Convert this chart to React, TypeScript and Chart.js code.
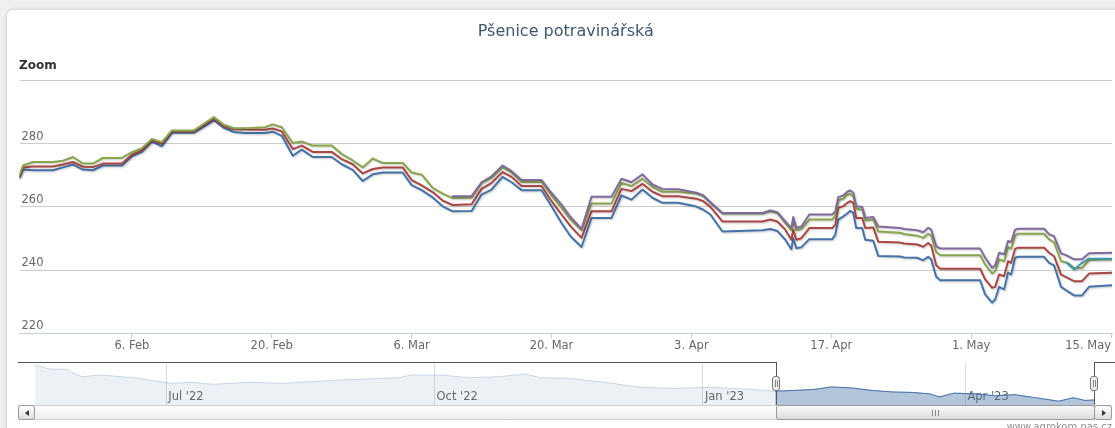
import React, { useEffect, useRef } from "react";
import { Chart, registerables } from "chart.js";

Chart.register(...registerables);

const FONT = "'DejaVu Sans', Verdana, sans-serif";
Chart.defaults.font.family = FONT;

const chartTitle = "Pšenice potravinářská";
const rangeLabel = "Zoom";
const creditText = "www.agrokom.nas.cz";

// x positions: days since 1 Jan 2023 (fractions = part of a day)
const days = [
  24.75, 25.1, 26.1, 28.1, 29.1, 30.1, 31.1, 32.1, 33.1, 35.0,
  36.0, 37.0, 38.0, 39.0, 40.0, 42.2, 43.2, 44.2, 45.2, 46.2,
  47.3, 49.3, 50.1, 51.0, 52.1, 53.0, 54.1, 56.0, 57.0, 58.1,
  59.1, 60.1, 61.1, 63.1, 64.0, 65.0, 66.1, 67.1, 68.1, 70.0,
  71.0, 72.0, 73.1, 74.0, 75.0, 77.0, 78.0, 79.0, 79.9, 81.0,
  82.0, 84.0, 85.0, 86.0, 87.1, 88.1, 89.1, 90.7, 92.5, 93.2,
  93.9, 95.1, 99.1, 99.9, 100.6, 101.4, 102.0, 102.2, 102.5, 103.0,
  103.8, 106.1, 106.4, 106.7, 107.2, 107.6, 107.9, 108.2, 108.5, 109.1,
  109.4, 110.2, 110.7, 112.9, 113.3, 114.6, 115.2, 115.7, 116.0, 116.5,
  116.9, 120.9, 121.4, 122.1, 122.4, 122.8, 123.3, 123.7, 124.0, 124.4,
  124.7, 127.3, 127.8, 128.3, 129.0, 129.6, 130.3, 131.1, 131.8, 134.1,
];

const blueSeries = [
  269.2, 271.8, 271.6, 271.6, 272.5, 273.4, 271.8, 271.6, 273.1, 273.1,
  276.0, 277.4, 280.7, 279.2, 283.5, 283.5, 285.4, 287.4, 285.0, 283.7,
  283.4, 283.4, 283.8, 282.5, 276.2, 278.1, 275.8, 275.8, 273.5, 271.7,
  268.2, 270.3, 270.9, 270.9, 266.9, 265.3, 263.0, 260.2, 258.6, 258.7,
  263.9, 265.5, 269.5, 267.8, 265.3, 265.3, 260.2, 254.9, 250.7, 247.3,
  256.5, 256.5, 263.6, 262.3, 265.5, 262.9, 261.3, 261.3, 260.1, 259.1,
  257.6, 252.2, 252.6, 253.0, 252.4, 249.6, 246.6, 250.1, 246.9, 247.2,
  249.8, 249.8, 251.2, 256.0, 257.0, 257.9, 258.8, 258.1, 253.3, 253.3,
  249.6, 249.3, 244.5, 244.3, 244.0, 243.9, 243.1, 244.2, 243.4, 237.9,
  236.8, 236.8, 232.3, 229.7, 230.7, 234.7, 233.9, 239.2, 238.6, 243.9,
  244.2, 244.2, 242.3, 241.5, 234.7, 233.4, 232.0, 232.0, 234.7, 235.2,
];

const redSeries = [
  269.7, 272.5, 272.8, 272.8, 273.4, 274.2, 272.7, 272.6, 273.7, 273.7,
  276.5, 277.9, 281.1, 280.0, 283.9, 283.9, 285.9, 287.9, 285.5, 284.6,
  284.5, 284.4, 284.8, 283.9, 278.3, 279.4, 277.4, 277.4, 275.1, 273.5,
  270.6, 272.0, 272.5, 272.5, 268.5, 266.8, 264.7, 262.0, 260.6, 260.8,
  265.7, 267.6, 271.0, 269.5, 266.6, 266.6, 261.8, 257.6, 253.9, 250.2,
  258.6, 258.6, 265.7, 265.0, 267.3, 264.8, 263.4, 263.4, 262.6, 261.8,
  260.0, 255.4, 255.4, 256.0, 255.4, 252.8, 249.6, 252.8, 249.6, 250.1,
  253.3, 253.3, 254.4, 259.7, 260.2, 261.3, 261.8, 261.3, 256.5, 256.5,
  253.3, 253.5, 249.0, 248.7, 248.4, 248.1, 247.4, 248.6, 247.8, 241.5,
  240.4, 240.4, 237.1, 234.4, 234.7, 238.6, 238.1, 242.8, 242.3, 246.7,
  247.1, 247.1, 245.5, 244.4, 238.6, 237.6, 236.5, 236.5, 238.9, 239.2,
];

const greenSeries = [
  270.2, 273.1, 274.2, 274.2, 274.6, 275.8, 273.7, 273.7, 275.5, 275.5,
  277.3, 278.6, 281.5, 280.5, 284.2, 284.2, 286.3, 288.4, 286.0, 284.9,
  284.9, 285.2, 286.1, 285.2, 280.2, 280.7, 279.4, 279.4, 276.7, 274.7,
  272.5, 275.3, 273.9, 273.9, 270.9, 270.2, 266.0, 264.2, 262.8, 262.9,
  267.6, 269.2, 272.6, 270.8, 267.9, 267.9, 263.6, 259.7, 256.0, 252.6,
  261.1, 261.1, 267.6, 266.6, 268.9, 266.3, 264.8, 264.8, 264.2, 263.4,
  261.3, 257.9, 257.9, 258.6, 258.1, 254.9, 252.6, 255.4, 252.6, 253.0,
  256.0, 256.0, 257.0, 262.1, 262.6, 263.9, 264.1, 263.4, 259.4, 259.1,
  255.7, 256.0, 252.2, 251.8, 251.4, 250.9, 250.2, 251.5, 250.9, 245.7,
  244.7, 244.7, 241.8, 238.9, 239.7, 243.4, 242.8, 247.3, 246.8, 250.9,
  251.5, 251.5, 249.7, 248.8, 242.8, 242.3, 240.7, 240.7, 243.2, 243.4,
];

const purpleSeries = [
  null, null, null, null, null, null, null, null, null, null,
  null, null, null, null, null, null, null, null, null, null,
  null, null, null, null, null, null, null, null, null, null,
  null, null, null, null, null, null, null, null, 263.4, 263.4,
  267.8, 269.7, 273.1, 271.3, 268.5, 268.5, 264.4, 260.7, 256.8, 253.0,
  263.2, 263.2, 268.9, 267.8, 270.3, 267.1, 265.7, 265.6, 264.5, 263.6,
  261.5, 258.1, 258.1, 258.9, 258.3, 255.4, 253.3, 256.8, 253.3, 253.8,
  257.6, 257.6, 258.6, 263.1, 263.6, 264.8, 265.2, 264.5, 260.2, 260.0,
  256.5, 256.8, 253.8, 253.3, 253.0, 252.6, 252.0, 253.4, 252.8, 247.6,
  246.8, 246.8, 243.9, 240.7, 241.5, 245.5, 245.0, 249.2, 248.9, 252.8,
  253.1, 253.1, 251.3, 250.7, 245.3, 244.6, 243.4, 243.4, 245.3, 245.5,
];

const tealSeries = [
  null, null, null, null, null, null, null, null, null, null,
  null, null, null, null, null, null, null, null, null, null,
  null, null, null, null, null, null, null, null, null, null,
  null, null, null, null, null, null, null, null, null, null,
  null, null, null, null, null, null, null, null, null, null,
  null, null, null, null, null, null, null, null, null, null,
  null, null, null, null, null, null, null, null, null, null,
  null, null, null, null, null, null, null, null, null, null,
  null, null, null, null, null, null, null, null, null, null,
  null, null, null, null, null, null, null, null, null, null,
  null, null, null, null, null, 242.3, 240.2, 242.3, 243.6, 243.6,
];

const viewStart = 24.75;
const viewEnd = 134.1;
// first entry is a blank tick at the axis start (keeps "6. Feb" centred, "15. May" right-aligned)
const xTickDays = [viewStart, 36, 50, 64, 78, 92, 106, 120, 134];
const xTickLabels = ["", "6. Feb", "20. Feb", "6. Mar", "20. Mar", "3. Apr", "17. Apr", "1. May", "15. May"];
const yTickValues = [220, 240, 260, 280, 300];

// navigator (whole year), days since 1 Jan 2023
const navDays = [
  -229, -224, -218, -216.7, -213, -206.7, -199.5, -194.7, -190, -182.4,
  -175.2, -168, -155.6, -143.6, -131.3, -118.9, -104.6, -99.8, -89.8, -80.2,
  -70.3, -60.7, -55.9, -46, -33.6, -21.5, -9.3, 2.7, 15.1, 24.75,
  31, 38, 44, 51, 58, 65, 72, 78, 81, 86,
  93, 100, 107, 114, 122, 127, 131, 134.1,
];
const navValues = [
  374.8, 358.8, 357.6, 348, 328, 334.8, 328, 324, 314.8, 301.6,
  305.6, 297.6, 305.6, 301.6, 310.8, 317.6, 324, 334.8, 334.8, 324,
  328, 338.8, 324, 321.6, 305.6, 285.6, 281.6, 285.6, 278.8, 270,
  273, 277, 287, 283, 273, 267, 265, 259, 247, 262,
  260, 252, 256, 244, 230, 244, 233, 235,
];
const navTickDays = [-184, -92, 0, 90];
const navTickLabels = ["Jul '22", "Oct '22", "Jan '23", "Apr '23"];
const navStart = -229;
const navEnd = 134.1;

const lineShadow = {
  id: "lineShadow",
  beforeDatasetDraw(chart: any) {
    const c = chart.ctx;
    c.save();
    c.shadowColor = "rgba(0,0,0,0.22)";
    c.shadowBlur = 2;
    c.shadowOffsetX = 1;
    c.shadowOffsetY = 1;
  },
  afterDatasetDraw(chart: any) {
    chart.ctx.restore();
  },
};

function series(label: string, values: (number | null)[], color: string) {
  return {
    label,
    data: days.map((d, i) => ({ x: d, y: values[i] })),
    borderColor: color,
    backgroundColor: color,
    borderWidth: 2,
    pointRadius: 0,
    fill: false,
    spanGaps: false,
    borderJoinStyle: "round",
    borderCapStyle: "round",
  };
}

export default function App() {
  const mainRef = useRef<HTMLCanvasElement>(null);
  const navRef = useRef<HTMLCanvasElement>(null);

  useEffect(() => {
    const main = new Chart(mainRef.current as HTMLCanvasElement, {
      type: "line",
      data: {
        datasets: [
          series("5", tealSeries, "#3D96AE"),
          series("4", purpleSeries, "#80699B"),
          series("3", greenSeries, "#89A54E"),
          series("2", redSeries, "#AA4643"),
          series("1", blueSeries, "#4572A7"),
        ] as any,
      },
      options: {
        responsive: false,
        animation: false,
        layout: { padding: { left: 19.5, right: 3, top: 0, bottom: 0 } },
        plugins: {
          legend: { display: false },
          tooltip: { enabled: false },
          title: {
            display: true,
            text: chartTitle,
            color: "#3E576F",
            font: { size: 16, weight: "normal", family: FONT },
            padding: { top: 22, bottom: 39.3 },
          },
        },
        scales: {
          x: {
            type: "linear",
            min: viewStart,
            max: viewEnd,
            afterBuildTicks: (axis: any) => {
              axis.ticks = xTickDays.map((v) => ({ value: v }));
            },
            afterFit: (s: any) => {
              s.height = 24.7;
              s.paddingLeft = 0;
              s.paddingRight = 0;
            },
            grid: {
              display: true,
              drawOnChartArea: false,
              drawTicks: true,
              tickLength: 5,
              color: (ctx: any) => (ctx.tick && ctx.tick.value === viewStart ? "rgba(0,0,0,0)" : "#C0D0E0"),
            },
            border: { display: true, color: "#C0D0E0", width: 1 },
            ticks: {
              autoSkip: false,
              maxRotation: 0,
              align: "inner",
              padding: 1,
              color: "#666666",
              font: { size: 11.5 },
              callback: (_v: any, i: number) => xTickLabels[i],
            },
          },
          y: {
            type: "linear",
            min: 220,
            max: 300,
            afterBuildTicks: (axis: any) => {
              axis.ticks = yTickValues.map((v) => ({ value: v }));
            },
            afterFit: (s: any) => {
              s.width = 0;
              s.paddingTop = 0;
              s.paddingBottom = 0;
            },
            grid: {
              drawTicks: false,
              color: (ctx: any) => (ctx.tick && ctx.tick.value === 220 ? "rgba(0,0,0,0)" : "#cccccc"),
            },
            border: { display: false },
            ticks: {
              mirror: true,
              padding: 2,
              labelOffset: -7,
              color: "#666666",
              font: { size: 11.5 },
              callback: (v: any) => (v === 300 ? "" : String(v)),
            },
          },
        },
      } as any,
      plugins: [lineShadow],
    });

    const navAll = navDays.map((d, i) => ({ x: d, y: navValues[i] }));
    const navSel = navDays.map((d, i) => ({ x: d, y: navValues[i] })).filter((p) => p.x >= viewStart);

    const nav = new Chart(navRef.current as HTMLCanvasElement, {
      type: "line",
      data: {
        datasets: [
          {
            data: navSel,
            borderColor: "#4572A7",
            borderWidth: 1,
            backgroundColor: "rgba(69,114,167,0.34)",
            fill: "start",
            pointRadius: 0,
          },
          {
            data: navAll,
            borderColor: "rgba(69,114,167,0.25)",
            borderWidth: 1,
            backgroundColor: "rgba(69,114,167,0.1)",
            fill: "start",
            pointRadius: 0,
          },
        ] as any,
      },
      options: {
        responsive: false,
        animation: false,
        layout: { padding: { left: 35, right: 21, top: 0, bottom: 0 } },
        plugins: { legend: { display: false }, tooltip: { enabled: false }, title: { display: false } },
        scales: {
          x: {
            type: "linear",
            min: navStart,
            max: navEnd,
            afterBuildTicks: (axis: any) => {
              axis.ticks = navTickDays.map((v) => ({ value: v }));
            },
            afterFit: (s: any) => {
              s.height = 0;
              s.paddingLeft = 0;
              s.paddingRight = 0;
            },
            grid: { color: "#dddddd", drawTicks: false },
            border: { display: false },
            ticks: {
              mirror: true,
              align: "start",
              padding: 1,
              labelOffset: 2,
              autoSkip: false,
              maxRotation: 0,
              color: "#666666",
              font: { size: 11.5 },
              callback: (_v: any, i: number) => navTickLabels[i],
            },
          },
          y: { display: false, min: 214.8, max: 386.8 },
        },
      } as any,
    });

    return () => {
      main.destroy();
      nav.destroy();
    };
  }, []);

  const btn: React.CSSProperties = {
    position: "absolute",
    top: 405,
    height: 15,
    boxSizing: "border-box",
    border: "1px solid #999",
    borderRadius: 3,
    background: "linear-gradient(#ffffff, #dddddd)",
  };
  const handle = (x: number): React.CSSProperties => ({
    position: "absolute",
    left: x - 4,
    top: 376,
    width: 8,
    height: 15,
    boxSizing: "border-box",
    border: "1px solid #777",
    borderRadius: 3,
    background: "#eeeeee",
  });
  const grip = (x: number, top: number, h: number): React.CSSProperties => ({
    position: "absolute",
    left: x,
    top,
    width: 1,
    height: h,
    background: "#888",
  });

  return (
    <div
      style={{
        position: "fixed",
        left: 0,
        top: 0,
        width: 1115,
        height: 428,
        overflow: "hidden",
        background: "#f0f0f0",
        fontFamily: FONT,
      }}
    >
      <div
        style={{
          position: "absolute",
          left: 7,
          top: 10,
          width: 1130,
          height: 440,
          background: "#ffffff",
          borderRadius: 6,
          boxShadow: "0 0 4px rgba(0,0,0,0.2)",
        }}
      />
      <canvas ref={mainRef} width={1115} height={358} style={{ position: "absolute", left: 0, top: 0, display: "block" }} />
      <div
        style={{
          position: "absolute",
          left: 19,
          top: 58,
          fontSize: 12,
          fontWeight: "bold",
          color: "#333",
          lineHeight: "14px",
        }}
      >
        {rangeLabel}
      </div>
      <canvas ref={navRef} width={1115} height={43} style={{ position: "absolute", left: 0, top: 362, display: "block" }} />
      <svg width={1115} height={428} style={{ position: "absolute", left: 0, top: 0, pointerEvents: "none" }}>
        <path
          d="M18 362.5 H776.5 V420 M1094.5 420 V362.5 H1115"
          stroke="#555"
          strokeWidth={1}
          fill="none"
          shapeRendering="crispEdges"
        />
      </svg>
      {/* scrollbar track */}
      <div
        style={{
          position: "absolute",
          left: 18,
          top: 405,
          width: 1094,
          height: 15,
          boxSizing: "border-box",
          borderTop: "1px solid #d0d0d0",
          borderBottom: "1px solid #d0d0d0",
          background: "linear-gradient(#fdfdfd, #eeeeee)",
        }}
      />
      {/* left button */}
      <div style={{ ...btn, left: 18, width: 17 }}>
        <div
          style={{
            position: "absolute",
            left: 6,
            top: 4,
            width: 0,
            height: 0,
            borderTop: "3px solid transparent",
            borderBottom: "3px solid transparent",
            borderRight: "4px solid #333",
          }}
        />
      </div>
      {/* right button */}
      <div style={{ ...btn, left: 1094, width: 18 }}>
        <div
          style={{
            position: "absolute",
            left: 7,
            top: 4,
            width: 0,
            height: 0,
            borderTop: "3px solid transparent",
            borderBottom: "3px solid transparent",
            borderLeft: "4px solid #333",
          }}
        />
      </div>
      {/* thumb */}
      <div style={{ ...btn, left: 776, width: 319, background: "linear-gradient(#fafafa, #dcdcdc)" }}>
        <div style={grip(155, 4, 6)} />
        <div style={grip(158, 4, 6)} />
        <div style={grip(161, 4, 6)} />
      </div>
      {/* handles */}
      <div style={handle(776)}>
        <div style={grip(2, 3, 7)} />
        <div style={grip(4, 3, 7)} />
      </div>
      <div style={handle(1094)}>
        <div style={grip(2, 3, 7)} />
        <div style={grip(4, 3, 7)} />
      </div>
      <div
        style={{
          position: "absolute",
          left: 0,
          width: 1112,
          top: 421,
          textAlign: "right",
          fontSize: 10,
          lineHeight: "12px",
          color: "#909090",
        }}
      >
        {creditText}
      </div>
    </div>
  );
}
